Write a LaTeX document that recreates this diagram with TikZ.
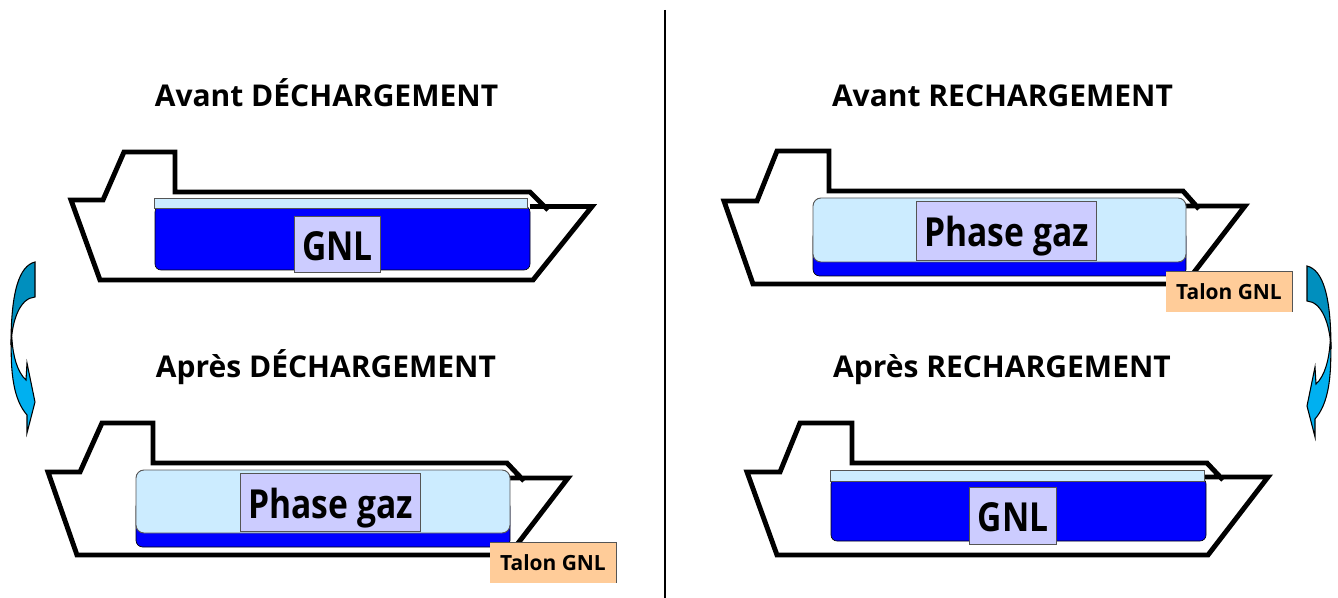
\documentclass[tikz,border=0pt]{standalone}
\usepackage{fontspec}
\usepackage{graphicx}
\setmainfont{Open Sans}
\definecolor{tankblue}{HTML}{0000FF}
\definecolor{gasblue}{HTML}{CCECFF}
\definecolor{labelviolet}{HTML}{CCCCFF}
\definecolor{talonorange}{HTML}{FFCC99}
\definecolor{flowdark}{HTML}{008FBE}
\definecolor{flowlight}{HTML}{00B0F0}
\definecolor{edgegrey}{HTML}{555555}
\tikzset{
  hull/.style={draw=black,line width=3.7pt,line join=miter},
  titletext/.style={font=\fontsize{22.5}{26}\selectfont\bfseries,inner sep=0pt,text=black,anchor=base},
  lab/.style={draw=edgegrey,line width=0.7pt,fill=labelviolet,inner sep=0pt,font=\fontsize{30}{32}\selectfont\bfseries},
  talon/.style={fill=talonorange,inner sep=0pt,font=\fontsize{15.7}{18}\selectfont\bfseries,minimum width=94.5pt,minimum height=30pt},
  talonedge/.style={draw=edgegrey,line width=0.7pt},
  gasfill/.style={fill=gasblue,draw=edgegrey,line width=0.7pt},
  liquid/.style={fill=tankblue,draw=black,line width=0.5pt},
}
\newcommand{\flowarrow}{%
  \draw[fill=flowlight,line width=0.8pt] (11.5,335) .. controls (10,375) and (14,400) .. (27,415)
     -- (27,433) -- (35,402) -- (27,363) -- (26,380) .. controls (17,372) and (13,355) .. (12,340) -- cycle;
  \draw[fill=flowdark,line width=0.8pt] (35,262) .. controls (19,266) and (11,292) .. (11,345)
     .. controls (12,320) and (20,298) .. (35,297) -- cycle;
}
\newcommand{\narrow}[1]{\raisebox{-11.8pt}[0pt][0pt]{\scalebox{0.84}[1]{#1}}}
\begin{document}
\begin{tikzpicture}[x=0.75pt,y=-0.75pt]
\useasboundingbox (0,0) rectangle (1338,598);
\draw[line width=1.5pt] (665,10) -- (665,598);

% Ship 1
\draw[hull] (548,210) -- (530,192) -- (175,192) -- (175,152) -- (124,152) -- (103,200) -- (71,200) -- (100,280) -- (533,280) -- (592,206.5) -- (530,206.5);
\draw[liquid,rounded corners=4.5pt] (155,206) -- (530,206) -- (530,270) -- (155,270) -- cycle;
\draw[gasfill] (154,198) rectangle (527,208.5);
\node[lab,minimum width=65pt,minimum height=42.5pt] (gnlA) at (337.5,244.5) {\narrow{GNL}};
\node[titletext] (titleA) at (326.5,106.5) {Avant DÉCHARGEMENT};

% Ship 2
\draw[hull] (524,481) -- (507,463) -- (153,463) -- (153,423) -- (102,423) -- (80,472) -- (48,472) -- (77,555) -- (509,555) -- (568,478) -- (505,478);
\draw[liquid,rounded corners=5pt] (136,500) -- (510,500) -- (510,547) -- (136,547) -- cycle;
\draw[gasfill,rounded corners=6pt] (136,470) -- (510,470) -- (510,533) -- (136,533) -- cycle;
\node[lab,minimum width=135pt,minimum height=44pt] (gazB) at (330.5,502.5) {\narrow{Phase gaz}};
\node[talon] (talonB) at (553,563) {Talon GNL};
\draw[talonedge] (talonB.north west) -- (talonB.north east) -- (talonB.south east);
\node[titletext] (titleB) at (326,377.5) {Après DÉCHARGEMENT};

% Ship 3
\draw[hull] (1199,209) -- (1183,191) -- (829,191) -- (829,151) -- (777,151) -- (757,201) -- (724,201) -- (753,284) -- (1185,284) -- (1245,206) -- (1180,206);
\draw[liquid,rounded corners=5pt] (813,230) -- (1186,230) -- (1186,276) -- (813,276) -- cycle;
\draw[gasfill,rounded corners=6pt] (813,198) -- (1186,198) -- (1186,262) -- (813,262) -- cycle;
\node[lab,minimum width=135pt,minimum height=44pt] (gazC) at (1006.5,231) {\narrow{Phase gaz}};
\node[talon] (talonC) at (1229,292) {Talon GNL};
\draw[talonedge] (talonC.north west) -- (talonC.north east) -- (talonC.south east);
\node[titletext] (titleC) at (1002.5,106.5) {Avant RECHARGEMENT};

% Ship 4
\draw[hull] (1223,480) -- (1207,463) -- (852,463) -- (852,423) -- (800,423) -- (780,472) -- (747,472) -- (777,555) -- (1208,555) -- (1268,477) -- (1200,477);
\draw[liquid,rounded corners=4.5pt] (831,478) -- (1206,478) -- (1206,541) -- (831,541) -- cycle;
\draw[gasfill] (830,470) rectangle (1204,481);
\node[lab,minimum width=65pt,minimum height=42.5pt] (gnlD) at (1013,516) {\narrow{GNL}};
\node[titletext] (titleD) at (1002,377.5) {Après RECHARGEMENT};

% Flow arrows
\flowarrow
\begin{scope}[shift={(1342,4)},xscale=-1]
\flowarrow
\end{scope}
\end{tikzpicture}
\end{document}
